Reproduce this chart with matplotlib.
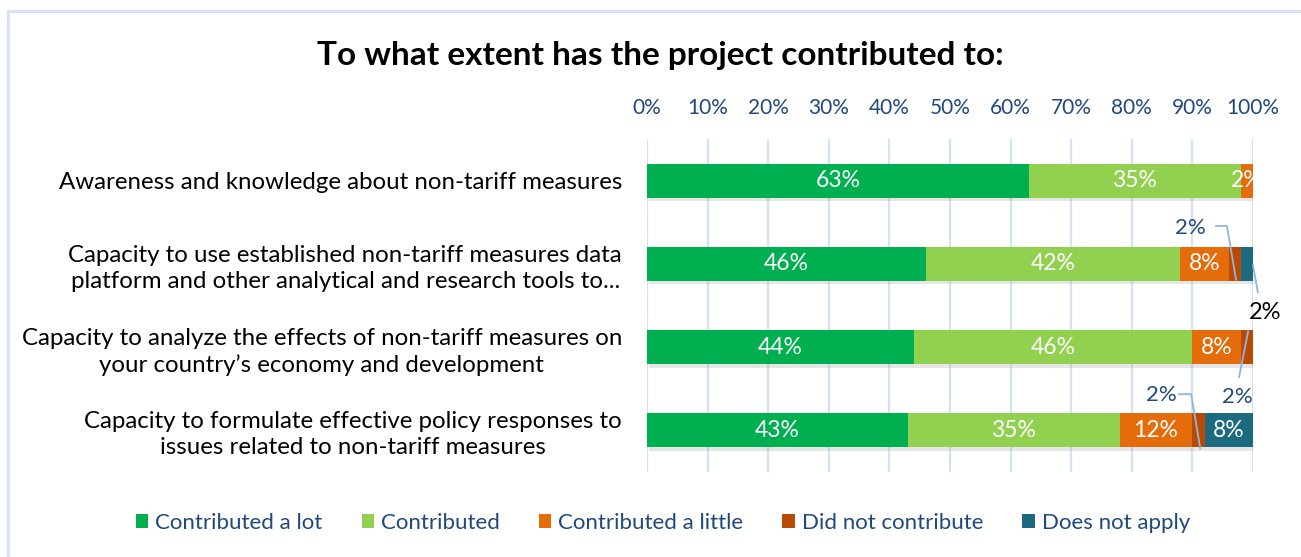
import matplotlib
matplotlib.use("Agg")
import matplotlib.pyplot as plt
from matplotlib.patches import Patch, Rectangle
from matplotlib import patheffects as pe

plt.rcParams['font.family'] = ['Lato', 'DejaVu Sans']

# --- data -------------------------------------------------------------
categories = [
    "Awareness and knowledge about non-tariff measures",
    "Capacity to use established non-tariff measures data\nplatform and other analytical and research tools to...",
    "Capacity to analyze the effects of non-tariff measures on\nyour country\u2019s economy and development",
    "Capacity to formulate effective policy responses to\nissues related to non-tariff measures",
]
series_names = ["Contributed a lot", "Contributed", "Contributed a little",
                "Did not contribute", "Does not apply"]
contributed_a_lot = [63, 46, 44, 43]
contributed = [35, 42, 46, 35]
contributed_a_little = [2, 8, 8, 12]
did_not_contribute = [0, 2, 2, 2]
does_not_apply = [0, 2, 0, 8]
tick_values = [0, 10, 20, 30, 40, 50, 60, 70, 80, 90, 100]
tick_labels = [f"{t}%" for t in tick_values]

series = [contributed_a_lot, contributed, contributed_a_little,
          did_not_contribute, does_not_apply]
colors = ["#00B050", "#92D050", "#E46C0A", "#B84A04", "#1B6A80"]

# small segments labelled outside the bar with a leader line:
# (row, series index, label position, leader path, colour, size)
callouts = [
    (1, 3, (89.6, 0.57), [(93.9, 0.545), (95.7, 0.545), (97.2, 1.19)], "#1F497D", 16),
    (1, 4, (102.0, 1.58), [(100.8, 1.34), (100.0, 1.02)], "black", 17),
    (2, 3, (97.5, 2.60), [(97.7, 2.36), (99.2, 1.81)], "#1F497D", 16),
    (3, 3, (84.8, 2.57), [(87.8, 2.565), (89.8, 2.565), (91.3, 3.22)], "#1F497D", 16),
]
callout_keys = {(c[0], c[1]) for c in callouts}

# --- figure -----------------------------------------------------------
W, H = 1301, 557
fig = plt.figure(figsize=(W / 100, H / 100), dpi=100)
fig.patch.set_facecolor("white")

# chart-area frame
fig.patches.append(Rectangle((8 / W, -0.1), 1.2, 1 - 11 / H + 0.1,
                             transform=fig.transFigure, fill=False,
                             edgecolor="#D5E2F3", linewidth=2.2))

ax = fig.add_axes([647 / W, 1 - 472 / H, 606 / W, 333 / H])
ypos = list(range(len(categories)))
left = [0] * len(categories)
shadow = [pe.SimplePatchShadow(offset=(1.5, -2.5), shadow_rgbFace="#909090", alpha=0.22),
          pe.Normal()]
for si, (vals, col) in enumerate(zip(series, colors)):
    bars = ax.barh(ypos, vals, left=left, height=0.41, color=col,
                   edgecolor="none", zorder=3)
    for b in bars:
        b.set_path_effects(shadow)
    for r, v in enumerate(vals):
        if v > 0 and (r, si) not in callout_keys:
            ax.text(left[r] + v / 2, r, f"{v}%", ha="center", va="center",
                    color="white", fontsize=16.5, zorder=5, clip_on=True)
    left = [l + v for l, v in zip(left, vals)]

for r, si, (tx, ty), path, tcol, fs in callouts:
    xs = [p[0] for p in path]
    ys = [p[1] for p in path]
    ax.plot(xs, ys, color="#8EB4E3", lw=1.3, zorder=6, clip_on=False)
    ax.text(tx, ty, f"{series[si][r]}%", ha="center", va="center",
            color=tcol, fontsize=fs, zorder=6, clip_on=False)

ax.set_xlim(0, 100)
ax.set_ylim(3.5, -0.5)
ax.xaxis.tick_top()
ax.set_xticks(tick_values)
ax.set_xticklabels(tick_labels, color="#1F497D", fontsize=15)
ax.tick_params(axis="x", length=0, pad=15)
ax.set_yticks(ypos)
ax.set_yticklabels(categories, fontsize=17.3, color="black",
                   multialignment="center", linespacing=1.3)
ax.tick_params(axis="y", length=0, pad=18)
ax.grid(axis="x", color="#D5E2F3", lw=1.6, zorder=0)
for s in ax.spines.values():
    s.set_visible(False)

# title
fig.text(660 / W, 1 - 56 / H, "To what extent has the project contributed to:",
         ha="center", va="center", fontsize=24, fontweight="bold", color="black")

# legend
handles = [Patch(facecolor=c, edgecolor="none") for c in colors]
fig.legend(handles, series_names, loc="center", bbox_to_anchor=(663 / W, 1 - 523 / H),
           ncol=5, frameon=False, fontsize=16, labelcolor="#1F497D",
           handlelength=0.55, handleheight=0.55, handletextpad=0.33,
           columnspacing=1.75)

fig.savefig("out.png", dpi=100, facecolor="white")
